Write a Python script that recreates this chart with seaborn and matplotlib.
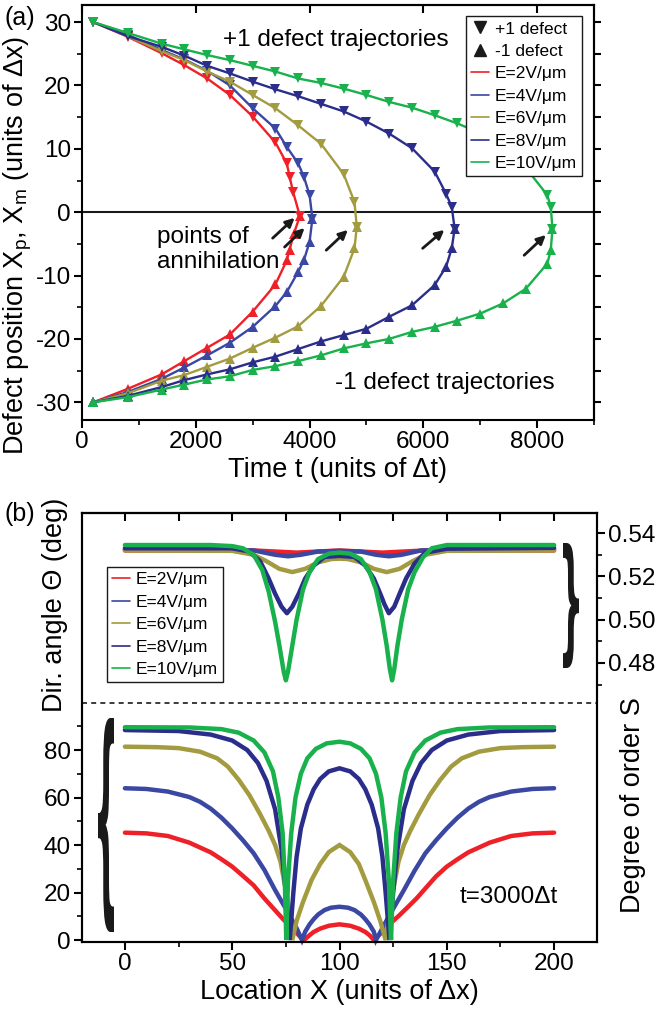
import numpy as np
import pandas as pd
import matplotlib
matplotlib.use("Agg")
import matplotlib.pyplot as plt
import seaborn as sns
from matplotlib.lines import Line2D
from matplotlib.textpath import TextPath
from matplotlib.font_manager import FontProperties
from matplotlib.patches import PathPatch
from matplotlib.transforms import Affine2D
from matplotlib.ticker import MultipleLocator, FixedLocator, FormatStrFormatter

# ---------------- data: panel (a) defect trajectories ----------------
field_labels = ["E=2V/\u03bcm", "E=4V/\u03bcm", "E=6V/\u03bcm", "E=8V/\u03bcm", "E=10V/\u03bcm"]
colors = ["#ee2028", "#3a47a3", "#a39b3f", "#2a2d8a", "#18b14c"]

t_p2 = [200, 800, 1400, 1800, 2200, 2600, 3000, 3400, 3600, 3650, 3710, 3830]
x_p2 = [30.0, 27.7, 25.1, 23.2, 21.1, 18.5, 15.1, 11.0, 7.7, 5.6, 3.2, -0.6]
t_m2 = [200, 800, 1400, 1800, 2200, 2600, 3000, 3400, 3600, 3650, 3720, 3830]
x_m2 = [-30.0, -27.9, -25.6, -23.5, -21.4, -19.3, -15.7, -11.4, -7.6, -5.9, -3.5, -0.6]

t_p4 = [200, 800, 1400, 1800, 2200, 2600, 3000, 3400, 3600, 3800, 3900, 4000, 4050]
x_p4 = [30.0, 28.0, 25.6, 24.1, 22.3, 20.0, 16.4, 13.2, 10.3, 7.7, 5.6, 2.7, -1.0]
t_m4 = [200, 800, 1400, 1800, 2200, 2600, 3000, 3400, 3600, 3800, 3900, 4000, 4050]
x_m4 = [-30.0, -28.4, -26.3, -24.5, -22.6, -20.6, -18.1, -14.8, -12.6, -9.4, -7.6, -4.7, -1.0]

t_p6 = [200, 800, 1400, 1800, 2200, 2600, 3000, 3400, 3800, 4200, 4600, 4790, 4830]
x_p6 = [30.0, 27.8, 25.4, 24.0, 22.2, 20.6, 18.5, 16.4, 13.7, 10.8, 6.0, 1.6, -2.3]
t_m6 = [200, 800, 1400, 1800, 2200, 2600, 3000, 3400, 3800, 4200, 4600, 4790, 4830]
x_m6 = [-30.0, -28.6, -26.6, -25.7, -24.4, -23.1, -21.4, -19.8, -18.0, -14.8, -10.2, -5.7, -2.3]

t_p8 = [200, 800, 1400, 1800, 2200, 2600, 3000, 3400, 3800, 4200, 4600, 5000, 5400, 5800, 6200, 6400, 6500, 6550]
x_p8 = [30.0, 27.8, 26.1, 24.7, 23.1, 21.9, 20.6, 19.4, 18.3, 17.1, 15.9, 14.3, 12.4, 10.1, 6.4, 2.9, 0.8, -2.6]
t_m8 = [200, 800, 1400, 1800, 2200, 2600, 3000, 3400, 3800, 4200, 4600, 5000, 5400, 5800, 6200, 6400, 6500, 6550]
x_m8 = [-30.0, -29.0, -27.6, -26.5, -25.6, -24.8, -23.7, -22.8, -21.6, -20.4, -19.4, -18.4, -16.5, -14.7, -11.5, -8.6, -5.7, -2.6]

t_p10 = [200, 800, 1400, 1800, 2200, 2600, 3000, 3400, 3800, 4200, 4600, 5000, 5400, 5800, 6200, 6600, 7000, 7400, 7800, 8180, 8240, 8270]
x_p10 = [30.0, 28.3, 26.6, 25.7, 24.8, 24.0, 23.1, 22.2, 21.1, 20.4, 19.5, 18.5, 17.4, 16.5, 15.3, 14.0, 12.5, 10.3, 7.0, 2.7, 0.8, -2.6]
t_m10 = [200, 800, 1400, 1800, 2200, 2600, 3000, 3400, 3800, 4200, 4600, 5000, 5400, 5800, 6200, 6600, 7000, 7400, 7800, 8180, 8240, 8270]
x_m10 = [-30.0, -29.2, -28.0, -27.2, -26.4, -25.9, -24.9, -24.3, -23.5, -22.6, -21.5, -20.7, -20.0, -18.9, -18.1, -17.1, -16.0, -14.4, -12.1, -8.1, -6.0, -2.6]

plus_t = [t_p2, t_p4, t_p6, t_p8, t_p10]
plus_x = [x_p2, x_p4, x_p6, x_p8, x_p10]
minus_t = [t_m2, t_m4, t_m6, t_m8, t_m10]
minus_x = [x_m2, x_m4, x_m6, x_m8, x_m10]

# ---------------- data: panel (b) angle profiles (left axis) ----------------
ang_x2 = [0, 10, 20, 30, 40, 45, 50, 55, 60, 65, 70, 74, 76, 78, 80, 82, 83.5,
          86, 88, 91, 95, 100, 105, 109, 112, 114, 116,
          120, 124, 128, 132, 136, 140, 145, 150, 155, 160, 170, 180, 190, 200]
ang_y2 = [45.2, 44.9, 43.8, 41.0, 36.9, 34.0, 30.9, 27.0, 23.0, 17.5, 12.5, 8.5, 7.0, 5.0, 3.0, 1.0, 0.0,
          2.0, 3.4, 4.8, 6.0, 6.6, 6.0, 4.8, 3.4, 2.0, 0.0,
          3.5, 7.2, 10.5, 14.0, 17.6, 21.7, 26.8, 30.9, 34.0, 36.9, 41.0, 43.8, 44.9, 45.2]

ang_x4 = [0, 10, 20, 30, 35, 40, 45, 50, 55, 60, 65, 70, 74, 77, 80, 82.5,
          84, 86, 88, 90, 93, 96, 100, 104, 107, 110, 112, 114, 116, 117,
          120, 123, 126, 130, 135, 140, 145, 150, 155, 160, 165, 170, 180, 190, 200]
ang_y4 = [63.9, 63.6, 62.5, 60.2, 58.2, 55.3, 51.5, 47.0, 42.0, 36.5, 29.5, 21.0, 14.7, 10.0, 5.0, 0.0,
          3.5, 6.5, 8.8, 10.7, 12.6, 13.6, 14.0, 13.6, 12.6, 10.7, 8.8, 6.5, 3.5, 0.0,
          5.0, 10.0, 14.7, 21.0, 29.2, 36.5, 42.0, 47.0, 51.5, 55.3, 58.2, 60.2, 62.5, 63.6, 63.9]

ang_x6 = [0, 15, 25, 35, 43, 48, 53, 58, 63, 67, 70, 72.5, 75, 77, 78,
          80, 83, 87, 91, 95, 100, 105, 109, 112, 116, 119, 121.5,
          123, 125, 127.5, 130, 133, 137, 142, 147, 152, 157, 165, 175, 185, 200]
ang_y6 = [81.4, 81.2, 80.8, 79.3, 76.5, 73.0, 67.5, 61.0, 53.0, 46.0, 40.0, 33.0, 21.0, 10.0, 0.0,
          8.0, 16.0, 25.3, 32.0, 37.0, 40.0, 37.0, 32.0, 25.3, 16.0, 8.0, 0.0,
          10.0, 21.0, 33.0, 40.0, 46.0, 53.0, 61.0, 67.5, 73.0, 76.5, 79.3, 80.8, 81.2, 81.4]

ang_x8 = [0, 25, 40, 50, 57, 62, 66, 70, 73, 75, 76.8,
          78.5, 80, 82, 85, 88, 91, 95, 100, 105, 109, 112, 115, 118, 120, 121.5, 123.3,
          125, 127, 130, 134, 138, 143, 150, 160, 175, 200]
ang_y8 = [88.4, 88.0, 86.5, 84.0, 80.0, 74.5, 67.0, 55.0, 38.0, 20.0, 0.0,
          20.0, 35.0, 47.0, 57.0, 63.5, 67.8, 71.0, 72.3, 71.0, 67.8, 63.5, 57.0, 47.0, 35.0, 20.0, 0.0,
          20.0, 38.0, 55.0, 67.0, 74.5, 80.0, 84.0, 86.5, 88.0, 88.4]

ang_x10 = [0, 30, 45, 53, 60, 65, 69, 71.5, 73.5, 74.5, 75.2,
           76, 77.5, 79.5, 82, 85, 89, 94, 100, 105, 110, 114, 117, 119.5, 121.5, 123, 124,
           125, 126.5, 128.5, 131, 135, 140, 147, 155, 170, 200]
ang_y10 = [89.6, 89.5, 88.8, 87.3, 84.0, 79.0, 71.0, 60.0, 45.0, 25.0, 0.0,
           25.0, 45.0, 60.0, 70.0, 76.5, 80.5, 82.8, 83.5, 82.8, 80.5, 76.5, 70.0, 60.0, 45.0, 25.0, 0.0,
           25.0, 45.0, 60.0, 71.0, 79.0, 84.0, 87.3, 88.8, 89.5, 89.6]

ang_x = [ang_x2, ang_x4, ang_x6, ang_x8, ang_x10]
ang_y = [ang_y2, ang_y4, ang_y6, ang_y8, ang_y10]

# ---------------- data: panel (b) order parameter S (right axis) ----------------
s_x2 = [0, 60, 70, 80, 90, 100, 110, 120, 130, 140, 200]
s_y2 = [0.532, 0.532, 0.5315, 0.531, 0.5315, 0.532, 0.5315, 0.531, 0.5315, 0.532, 0.532]

s_x4 = [0, 60, 70, 76, 82, 90, 100, 110, 117, 123, 129, 138, 200]
s_y4 = [0.5325, 0.532, 0.530, 0.5293, 0.530, 0.5315, 0.5318, 0.5315, 0.530, 0.5293, 0.530, 0.532, 0.5325]

s_x6 = [0, 50, 60, 66, 72, 78, 84, 90, 96, 100, 104, 110, 116, 122, 128, 134, 140, 150, 200]
s_y6 = [0.532, 0.5318, 0.530, 0.527, 0.5235, 0.522, 0.5235, 0.5265, 0.528, 0.5282, 0.528, 0.5265,
        0.5235, 0.522, 0.5235, 0.527, 0.530, 0.5318, 0.532]

s_x8 = [0, 50, 58, 63, 67, 70, 73, 75.5, 78, 81, 84, 88, 93, 100, 107, 112, 116, 119, 121, 123,
        125.5, 128, 131, 135, 140, 150, 200]
s_y8 = [0.533, 0.533, 0.5315, 0.527, 0.519, 0.512, 0.506, 0.503, 0.506, 0.512, 0.519, 0.525, 0.529,
        0.5295, 0.529, 0.525, 0.519, 0.512, 0.507, 0.503, 0.506, 0.512, 0.519, 0.526, 0.531, 0.5328, 0.5332]

s_x10 = [0, 40, 50, 55, 60, 64, 67, 70, 72, 74, 75, 76, 78, 80, 83, 86, 90, 95, 100, 105, 110, 114,
         117, 120, 122, 123.5, 124.5, 125.5, 127, 129, 132, 135, 139, 143, 150, 200]
s_y10 = [0.5345, 0.5345, 0.534, 0.533, 0.530, 0.523, 0.513, 0.499, 0.488, 0.476, 0.472, 0.476, 0.488,
         0.500, 0.514, 0.522, 0.528, 0.5305, 0.531, 0.5305, 0.528, 0.522, 0.514, 0.500, 0.488, 0.477,
         0.472, 0.477, 0.488, 0.500, 0.514, 0.522, 0.529, 0.533, 0.5345, 0.5345]

s_x = [s_x2, s_x4, s_x6, s_x8, s_x10]
s_y = [s_y2, s_y4, s_y6, s_y8, s_y10]

# ---------------- style ----------------
sns.set_theme(style="ticks")
plt.rcParams["font.family"] = ["Liberation Sans", "DejaVu Sans"]
plt.rcParams["mathtext.fontset"] = "custom"
plt.rcParams["mathtext.rm"] = "Liberation Sans"
plt.rcParams["mathtext.it"] = "Liberation Sans"
plt.rcParams["mathtext.default"] = "regular"
plt.rcParams["axes.unicode_minus"] = False
for k in ["axes.edgecolor", "xtick.color", "ytick.color", "text.color", "axes.labelcolor"]:
    plt.rcParams[k] = "black"
plt.rcParams["axes.linewidth"] = 1.5

TICK = 17.5
LAB = 19.5

W, H = 659, 1019
fig = plt.figure(figsize=(W / 100, H / 100), dpi=100)

def px_axes(x0, y0, x1, y1):
    return fig.add_axes([x0 / W, 1 - y1 / H, (x1 - x0) / W, (y1 - y0) / H])

# ================= panel (a) =================
axA = px_axes(82, 5, 594, 420)
for i in range(5):
    sns.lineplot(x=plus_t[i], y=plus_x[i], ax=axA, color=colors[i], marker="v", markersize=7.5,
                 markeredgewidth=0, linewidth=1.7, estimator=None, sort=False, legend=False)
    sns.lineplot(x=minus_t[i], y=minus_x[i], ax=axA, color=colors[i], marker="^", markersize=7.5,
                 markeredgewidth=0, linewidth=1.7, estimator=None, sort=False, legend=False)
axA.axhline(0, color="k", lw=1.5, zorder=1)
axA.set_xlim(0, 9000)
axA.set_ylim(-32.8, 32.7)
axA.xaxis.set_major_locator(MultipleLocator(2000))
axA.xaxis.set_minor_locator(MultipleLocator(1000))
axA.yaxis.set_major_locator(MultipleLocator(10))
axA.yaxis.set_minor_locator(MultipleLocator(5))
axA.tick_params(which="major", direction="out", length=6, width=1.5, labelsize=TICK, pad=2,
                top=False, right=False)
axA.tick_params(which="minor", direction="out", length=3.5, width=1.2, top=False, right=False)
secx = axA.secondary_xaxis("top")
secx.xaxis.set_major_locator(MultipleLocator(2000))
secx.xaxis.set_minor_locator(plt.NullLocator())
secx.tick_params(direction="in", length=6, width=1.5, labeltop=False)
secy = axA.secondary_yaxis("right")
secy.yaxis.set_major_locator(MultipleLocator(5))
secy.yaxis.set_minor_locator(plt.NullLocator())
secy.tick_params(direction="out", length=5, width=1.5, labelright=False)

axA.set_xlabel("Time t (units of \u0394t)", fontsize=LAB, labelpad=3)
axA.set_ylabel("Defect position X$_p$, X$_m$ (units of \u0394x)", fontsize=LAB, va="center")
axA.yaxis.set_label_coords(-0.125, 0.42)

axA.text(2470, 27.2, "+1 defect trajectories", fontsize=TICK, ha="left", va="center")
axA.text(4440, -27.0, "-1 defect trajectories", fontsize=TICK, ha="left", va="center")
axA.text(1316, -5.9, "points of\nannihilation", fontsize=TICK, ha="left", va="center", linespacing=1.2)

arrows = [((3351, -4.1), (3737, -0.9)), ((3561, -5.5), (3912, -2.5)), ((4293, -6.0), (4672, -2.8)),
          ((5988, -5.7), (6368, -2.8)), ((7772, -6.8), (8153, -3.6))]
for tail, tip in arrows:
    axA.annotate("", xy=tip, xytext=tail,
                 arrowprops=dict(arrowstyle="-|>", color="k", lw=2.0, mutation_scale=13,
                                 shrinkA=0, shrinkB=0))

hA = [Line2D([], [], ls="none", marker="v", color="k", markersize=9),
      Line2D([], [], ls="none", marker="^", color="k", markersize=9)]
hA += [Line2D([], [], color=c, lw=1.2) for c in colors]
legA = axA.legend(hA, ["+1 defect", "-1 defect"] + field_labels, loc="upper right",
                  bbox_to_anchor=(0.977, 0.973), fontsize=12.5, frameon=True, fancybox=False,
                  edgecolor="k", framealpha=1, handlelength=1.0, handletextpad=0.35,
                  labelspacing=0.42, borderpad=0.3, borderaxespad=0)
legA.get_frame().set_linewidth(1.0)
legA.set_zorder(10)

# ================= panel (b) =================
axB = px_axes(82, 513, 597, 942)
axS = axB.twinx()
for i in range(5):
    sns.lineplot(x=ang_x[i], y=ang_y[i], ax=axB, color=colors[i], linewidth=3.2,
                 estimator=None, sort=False, legend=False, solid_joinstyle="miter", clip_on=False)
    sns.lineplot(x=s_x[i], y=s_y[i], ax=axS, color=colors[i], linewidth=3.2,
                 estimator=None, sort=False, legend=False)
axB.axhline(100, color="k", lw=1.2, ls=(0, (3, 2.5)))
axB.set_xlim(-20, 220)
axB.set_ylim(-0.84, 179.8)
axS.set_ylim(0.3511, 0.5493)

axB.xaxis.set_major_locator(FixedLocator([0, 50, 100, 150, 200]))
axB.xaxis.set_minor_locator(FixedLocator([25, 75, 125, 175]))
axB.yaxis.set_major_locator(FixedLocator([0, 20, 40, 60, 80]))
axB.yaxis.set_minor_locator(FixedLocator([10, 30, 50, 70, 90]))
axB.tick_params(which="major", direction="out", length=6, width=1.5, labelsize=TICK, pad=2,
                top=False, right=False)
axB.tick_params(which="minor", direction="out", length=3.5, width=1.2, top=False, right=False)
axS.yaxis.set_major_locator(FixedLocator([0.48, 0.50, 0.52, 0.54]))
axS.yaxis.set_minor_locator(FixedLocator([0.47, 0.49, 0.51, 0.53]))
axS.yaxis.set_major_formatter(FormatStrFormatter("%.2f"))
axS.tick_params(which="major", direction="out", length=6, width=1.5, labelsize=TICK, pad=2)
axS.tick_params(which="minor", direction="out", length=3.5, width=1.2)
secxB = axB.secondary_xaxis("top")
secxB.xaxis.set_major_locator(MultipleLocator(25))
secxB.xaxis.set_minor_locator(plt.NullLocator())
secxB.tick_params(direction="in", length=6, width=1.5, labeltop=False)

axB.set_xlabel("Location X (units of \u0394x)", fontsize=LAB, labelpad=3)
axB.set_ylabel("Dir. angle \u0398 (deg)", fontsize=LAB, va="center")
axB.yaxis.set_label_coords(-0.052, 0.786)
axS.set_ylabel("Degree of order S", fontsize=LAB, va="center", rotation=90)
axS.yaxis.set_label_coords(1.07, 0.32)

axB.text(156, 18.1, "t=3000\u0394t", fontsize=TICK, ha="left", va="center")

hB = [Line2D([], [], color=c, lw=1.2) for c in colors]
legB = axS.legend(hB, field_labels, loc="upper left", bbox_to_anchor=(0.0485, 0.874),
                  fontsize=12.5, frameon=True, fancybox=False, edgecolor="k", framealpha=1,
                  handlelength=1.0, handletextpad=0.35, labelspacing=0.42, borderpad=0.3,
                  borderaxespad=0)
legB.get_frame().set_linewidth(1.0)

# panel letters
fig.text(5 / W, 1 - 18 / H, "(a)", fontsize=18, ha="left", va="center")
fig.text(5 / W, 1 - 514 / H, "(b)", fontsize=18, ha="left", va="center")

# curly braces (decorations)
def add_brace(ch, x0, y0, x1, y1):
    tp = TextPath((0, 0), ch, size=50, prop=FontProperties(family="DejaVu Sans", weight="bold"))
    ext = tp.get_extents()
    sx = (x1 - x0) / W / ext.width
    sy = (y1 - y0) / H / ext.height
    tr = Affine2D().translate(-ext.x0, -ext.y0).scale(sx, sy).translate(x0 / W, 1 - y1 / H)
    fig.add_artist(PathPatch(tr.transform_path(tp), transform=fig.transFigure,
                             facecolor="k", edgecolor="none"))

add_brace("}", 563, 543, 579, 668)
add_brace("{", 98, 718, 114, 932)

fig.savefig("out.png", dpi=100)
